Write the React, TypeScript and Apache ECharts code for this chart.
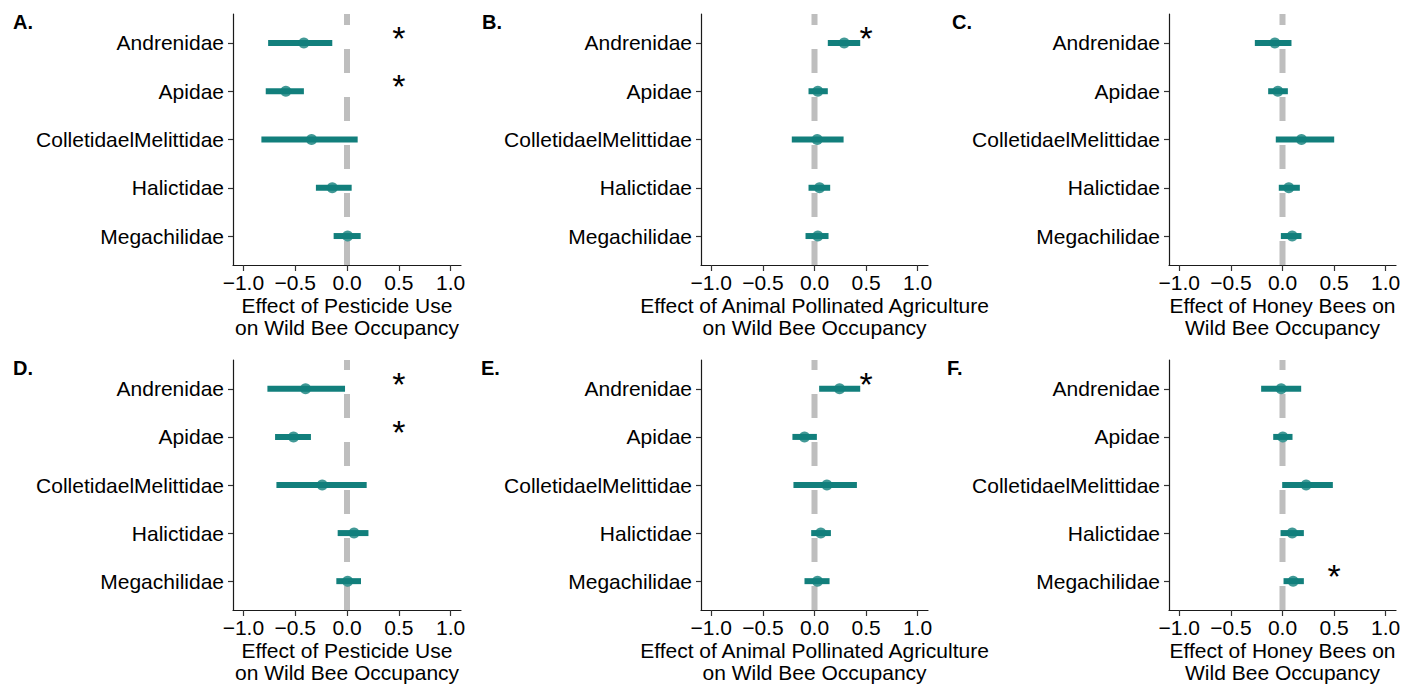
import React, { useEffect, useRef } from "react";
import * as echarts from "echarts";

const categories = ["Andrenidae", "Apidae", "ColletidaelMelittidae", "Halictidae", "Megachilidae"];
const xTicks = [-1, -0.5, 0, 0.5, 1];
const yTicks = [0, 1, 2, 3, 4];

// Panel A – pesticide use
const aEst = [-0.416, -0.59, -0.342, -0.142, 0.006];
const aLo = [-0.761, -0.784, -0.826, -0.3, -0.129];
const aHi = [-0.142, -0.416, 0.103, 0.045, 0.132];
const aSig = [1, 1, 0, 0, 0];

// Panel B – animal pollinated agriculture
const bEst = [0.288, 0.032, 0.026, 0.049, 0.032];
const bLo = [0.129, -0.058, -0.22, -0.058, -0.087];
const bHi = [0.443, 0.129, 0.282, 0.152, 0.136];
const bSig = [1, 0, 0, 0, 0];

// Panel C – honey bees
const cEst = [-0.074, -0.045, 0.184, 0.061, 0.094];
const cLo = [-0.268, -0.139, -0.065, -0.036, -0.016];
const cHi = [0.087, 0.052, 0.501, 0.168, 0.184];
const cSig = [0, 0, 0, 0, 0];

// Panel D – pesticide use
const dEst = [-0.4, -0.516, -0.239, 0.068, 0.006];
const dLo = [-0.768, -0.694, -0.681, -0.09, -0.103];
const dHi = [-0.019, -0.348, 0.19, 0.207, 0.135];
const dSig = [1, 1, 0, 0, 0];

// Panel E – animal pollinated agriculture
const eEst = [0.243, -0.097, 0.12, 0.061, 0.029];
const eLo = [0.045, -0.214, -0.204, -0.032, -0.097];
const eHi = [0.443, 0.023, 0.411, 0.159, 0.146];
const eSig = [1, 0, 0, 0, 0];

// Panel F – honey bees
const fEst = [-0.013, 0.003, 0.229, 0.094, 0.103];
const fLo = [-0.207, -0.09, -0.003, -0.019, 0.01];
const fHi = [0.181, 0.097, 0.488, 0.207, 0.207];
const fSig = [0, 0, 0, 0, 1];

const titlePest = "Effect of Pesticide Use\non Wild Bee Occupancy";
const titleAgri = "Effect of Animal Pollinated Agriculture\non Wild Bee Occupancy";
const titleHoney = "Effect of Honey Bees on\nWild Bee Occupancy";

const panelLabels = ["A.", "B.", "C.", "D.", "E.", "F."];
const sigX = 0.5;

const TEAL = "#127F7C";
const FONT = "'Liberation Sans', Arial, Helvetica, sans-serif";
const FS = 21;

const panels = [
  { est: aEst, lo: aLo, hi: aHi, sig: aSig, title: titlePest },
  { est: bEst, lo: bLo, hi: bHi, sig: bSig, title: titleAgri },
  { est: cEst, lo: cLo, hi: cHi, sig: cSig, title: titleHoney },
  { est: dEst, lo: dLo, hi: dHi, sig: dSig, title: titlePest },
  { est: eEst, lo: eLo, hi: eHi, sig: eSig, title: titleAgri },
  { est: fEst, lo: fLo, hi: fHi, sig: fSig, title: titleHoney },
];

const gridLefts = [233, 701, 1169];
const gridWidths = [228, 227, 227];
const gridTops = [14, 360];
const gridHeights = [251, 250];
const labelPos = [
  [13, 12], [482, 12], [952, 12],
  [13, 358], [481, 358], [947, 358],
];

function fmtX(v: number) {
  const s = Math.abs(v).toFixed(1);
  return v < 0 ? "\u2212" + s : s;
}

export default function App() {
  const ref = useRef<HTMLDivElement>(null);
  useEffect(() => {
    if (!ref.current) return;
    const chart = echarts.init(ref.current, undefined, { renderer: "svg" });
    const grid: any[] = [];
    const xAxis: any[] = [];
    const yAxis: any[] = [];
    const series: any[] = [];

    panels.forEach((p, k) => {
      const col = k % 3;
      const row = Math.floor(k / 3);
      grid.push({
        left: gridLefts[col],
        top: gridTops[row],
        width: gridWidths[col],
        height: gridHeights[row],
        outerBoundsMode: "none",
        containLabel: false,
      });
      xAxis.push({
        gridIndex: k,
        type: "value",
        min: -1.1,
        max: 1.1,
        splitLine: { show: false },
        axisLine: { show: true, onZero: false, lineStyle: { color: "#1a1a1a", width: 1.2 } },
        axisTick: { show: true, length: 6, customValues: xTicks, lineStyle: { color: "#333", width: 1.2 } },
        axisLabel: {
          show: true,
          customValues: xTicks,
          formatter: (v: number) => fmtX(v),
          color: "#000",
          fontSize: FS,
          fontFamily: FONT,
          margin: 7,
        },
        name: p.title,
        nameLocation: "middle",
        nameGap: 29,
        nameTextStyle: { color: "#000", fontSize: FS, fontFamily: FONT, lineHeight: 22 },
      });
      yAxis.push({
        gridIndex: k,
        type: "value",
        min: -0.6,
        max: 4.6,
        inverse: true,
        splitLine: { show: false },
        axisLine: { show: true, onZero: false, lineStyle: { color: "#1a1a1a", width: 1.2 } },
        axisTick: { show: true, length: 5, customValues: yTicks, lineStyle: { color: "#333", width: 1.2 } },
        axisLabel: {
          show: true,
          customValues: yTicks,
          formatter: (v: number) => categories[Math.round(v)] ?? "",
          color: "#000",
          fontSize: FS,
          fontFamily: FONT,
          margin: 9,
        },
      });

      // dashed zero line
      series.push({
        type: "custom",
        xAxisIndex: k,
        yAxisIndex: k,
        silent: true,
        z: 1,
        encode: { x: 0, y: [1, 2] },
        data: [[0, -0.6, 4.6]],
        renderItem: (params: any, api: any) => {
          const b = api.coord([api.value(0), api.value(2)]);
          const t = api.coord([api.value(0), api.value(1)]);
          return {
            type: "line",
            shape: { x1: b[0], y1: b[1], x2: t[0], y2: t[1] },
            style: { stroke: "#BEBEBE", lineWidth: 6, lineDash: [24, 24], lineCap: "butt" },
          };
        },
      });

      // interval bars
      series.push({
        type: "custom",
        xAxisIndex: k,
        yAxisIndex: k,
        silent: true,
        z: 2,
        encode: { x: [1, 2], y: 0 },
        data: categories.map((_, i) => [i, p.lo[i], p.hi[i]]),
        renderItem: (params: any, api: any) => {
          const y = api.value(0);
          const a = api.coord([api.value(1), y]);
          const b = api.coord([api.value(2), y]);
          return {
            type: "line",
            shape: { x1: a[0], y1: a[1], x2: b[0], y2: b[1] },
            style: { stroke: TEAL, lineWidth: 6, lineCap: "butt" },
          };
        },
      });

      // point estimates
      series.push({
        type: "scatter",
        xAxisIndex: k,
        yAxisIndex: k,
        silent: true,
        z: 3,
        symbol: "circle",
        symbolSize: 11,
        itemStyle: { color: TEAL },
        data: categories.map((_, i) => [p.est[i], i]),
      });

      // significance asterisks
      const sigData = categories
        .map((_, i) => (p.sig[i] ? [sigX, i] : null))
        .filter((d) => d !== null);
      series.push({
        type: "custom",
        xAxisIndex: k,
        yAxisIndex: k,
        silent: true,
        z: 4,
        encode: { x: 0, y: 1 },
        data: sigData,
        renderItem: (params: any, api: any) => {
          const c = api.coord([api.value(0), api.value(1)]);
          return {
            type: "text",
            x: c[0],
            y: c[1] - 5,
            style: {
              text: "*",
              fontSize: 34,
              fontFamily: FONT,
              fill: "#000",
              align: "center",
              verticalAlign: "middle",
            },
          };
        },
      });
    });

    chart.setOption({
      animation: false,
      backgroundColor: "#fff",
      grid,
      xAxis,
      yAxis,
      series,
      graphic: panelLabels.map((t, i) => ({
        type: "text",
        left: labelPos[i][0],
        top: labelPos[i][1],
        style: { text: t, fontSize: 20, fontWeight: "bold", fontFamily: FONT, fill: "#000" },
      })),
    });
    return () => chart.dispose();
  }, []);
  return (
    <div
      ref={ref}
      style={{ position: "absolute", left: 0, top: 0, width: 1417, height: 689 }}
    />
  );
}
